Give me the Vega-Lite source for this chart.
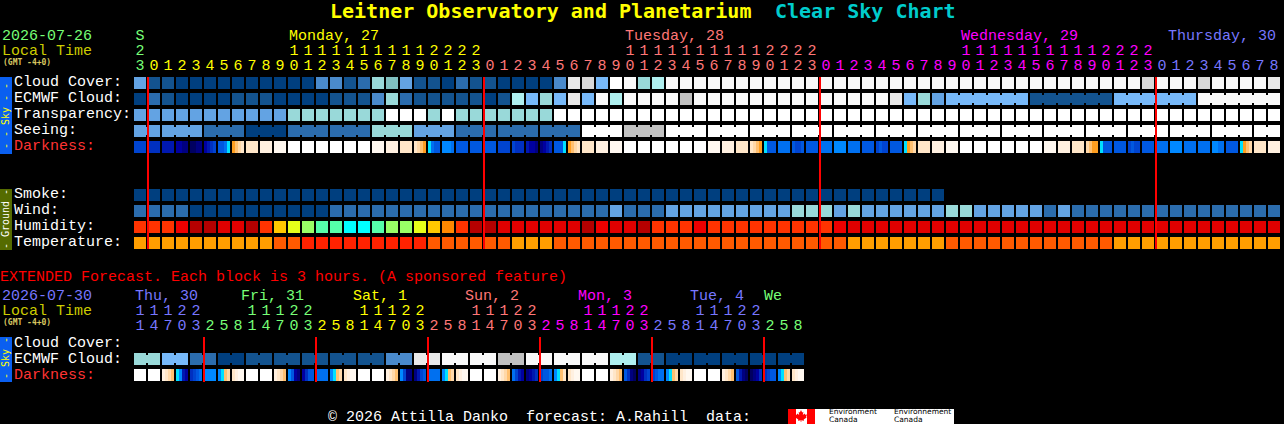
{"$schema":"https://vega.github.io/schema/vega-lite/v6.json","width":1284,"height":424,"padding":0,"autosize":{"type":"fit","contains":"padding"},"background":"#000000","view":{"stroke":null},
"datasets":{
"blocks":[
{"c":-10,"c2":-9.1429,"l":-0.375,"l2":4.4375,"v":"skybar"},{"c":-10,"c2":-9.1429,"l":6.625,"l2":10.4375,"v":"groundbar"},{"c":-10,"c2":-9.1429,"l":15.875,"l2":18.6875,"v":"skybar"},
{"c":46.2857,"c2":58.1429,"l":20.375,"l2":21.3125,"v":"white"},{"c":46.2857,"c2":46.8571,"l":20.375,"l2":21.3125,"v":"red"},{"c":47.6429,"c2":48.2143,"l":20.375,"l2":21.3125,"v":"red"}],
"cells":[
{"c":0,"l":0,"v":"E"},{"c":1,"l":0,"v":"B"},{"c":2,"l":0,"v":"B"},{"c":3,"l":0,"v":"A"},{"c":4,"l":0,"v":"A"},{"c":5,"l":0,"v":"A"},{"c":6,"l":0,"v":"A"},{"c":7,"l":0,"v":"A"},{"c":8,"l":0,"v":"A"},{"c":9,"l":0,"v":"A"},{"c":10,"l":0,"v":"A"},{"c":11,"l":0,"v":"A"},{"c":12,"l":0,"v":"A"},{"c":13,"l":0,"v":"D"},{"c":14,"l":0,"v":"D"},{"c":15,"l":0,"v":"B"},{"c":16,"l":0,"v":"C"},{"c":17,"l":0,"v":"G"},{"c":18,"l":0,"v":"M"},{"c":19,"l":0,"v":"E"},{"c":20,"l":0,"v":"B"},{"c":21,"l":0,"v":"B"},{"c":22,"l":0,"v":"A"},{"c":23,"l":0,"v":"C"},{"c":24,"l":0,"v":"B"},{"c":25,"l":0,"v":"B"},{"c":26,"l":0,"v":"A"},{"c":27,"l":0,"v":"A"},{"c":28,"l":0,"v":"A"},{"c":29,"l":0,"v":"A"},{"c":30,"l":0,"v":"D"},{"c":31,"l":0,"v":"J"},{"c":32,"l":0,"v":"L"},{"c":33,"l":0,"v":"F"},{"c":34,"l":0,"v":"W"},{"c":35,"l":0,"v":"K"},{"c":36,"l":0,"v":"G"},{"c":37,"l":0,"v":"H"},{"c":38,"l":0,"v":"K"},{"c":39,"l":0,"v":"K"},{"c":40,"l":0,"v":"K"},{"c":41,"l":0,"v":"K"},{"c":42,"l":0,"v":"K"},{"c":43,"l":0,"v":"K"},{"c":44,"l":0,"v":"K"},{"c":45,"l":0,"v":"K"},{"c":46,"l":0,"v":"K"},{"c":47,"l":0,"v":"K"},{"c":48,"l":0,"v":"K"},{"c":49,"l":0,"v":"K"},{"c":50,"l":0,"v":"K"},{"c":51,"l":0,"v":"K"},{"c":52,"l":0,"v":"K"},{"c":53,"l":0,"v":"K"},{"c":54,"l":0,"v":"K"},{"c":55,"l":0,"v":"K"},{"c":56,"l":0,"v":"K"},{"c":57,"l":0,"v":"K"},{"c":58,"l":0,"v":"K"},{"c":59,"l":0,"v":"K"},{"c":60,"l":0,"v":"K"},{"c":61,"l":0,"v":"K"},{"c":62,"l":0,"v":"K"},{"c":63,"l":0,"v":"K"},{"c":64,"l":0,"v":"K"},{"c":65,"l":0,"v":"K"},{"c":66,"l":0,"v":"K"},{"c":67,"l":0,"v":"K"},{"c":68,"l":0,"v":"K"},{"c":69,"l":0,"v":"K"},{"c":70,"l":0,"v":"K"},{"c":71,"l":0,"v":"K"},{"c":72,"l":0,"v":"L"},{"c":73,"l":0,"v":"K"},{"c":74,"l":0,"v":"K"},{"c":75,"l":0,"v":"K"},{"c":76,"l":0,"v":"L"},{"c":77,"l":0,"v":"K"},{"c":78,"l":0,"v":"K"},{"c":79,"l":0,"v":"K"},{"c":80,"l":0,"v":"K"},{"c":81,"l":0,"v":"J"},
{"c":0,"l":1,"v":"A"},{"c":1,"l":1,"v":"C"},{"c":2,"l":1,"v":"B"},{"c":3,"l":1,"v":"A"},{"c":4,"l":1,"v":"A"},{"c":5,"l":1,"v":"A"},{"c":6,"l":1,"v":"A"},{"c":7,"l":1,"v":"B"},{"c":8,"l":1,"v":"B"},{"c":9,"l":1,"v":"B"},{"c":10,"l":1,"v":"A"},{"c":11,"l":1,"v":"A"},{"c":12,"l":1,"v":"A"},{"c":13,"l":1,"v":"A"},{"c":14,"l":1,"v":"B"},{"c":15,"l":1,"v":"B"},{"c":16,"l":1,"v":"B"},{"c":17,"l":1,"v":"D"},{"c":18,"l":1,"v":"G"},{"c":19,"l":1,"v":"C"},{"c":20,"l":1,"v":"B"},{"c":21,"l":1,"v":"B"},{"c":22,"l":1,"v":"B"},{"c":23,"l":1,"v":"B"},{"c":24,"l":1,"v":"B"},{"c":25,"l":1,"v":"A"},{"c":26,"l":1,"v":"B"},{"c":27,"l":1,"v":"H"},{"c":28,"l":1,"v":"F"},{"c":29,"l":1,"v":"G"},{"c":30,"l":1,"v":"F"},{"c":31,"l":1,"v":"J"},{"c":32,"l":1,"v":"F"},{"c":33,"l":1,"v":"K"},{"c":34,"l":1,"v":"H"},{"c":35,"l":1,"v":"K"},{"c":36,"l":1,"v":"K"},{"c":37,"l":1,"v":"K"},{"c":38,"l":1,"v":"K"},{"c":39,"l":1,"v":"I"},{"c":40,"l":1,"v":"K"},{"c":41,"l":1,"v":"K"},{"c":42,"l":1,"v":"K"},{"c":43,"l":1,"v":"K"},{"c":44,"l":1,"v":"K"},{"c":45,"l":1,"v":"K"},{"c":46,"l":1,"v":"K"},{"c":47,"l":1,"v":"K"},{"c":48,"l":1,"v":"K"},{"c":49,"l":1,"v":"K"},{"c":50,"l":1,"v":"K"},{"c":51,"l":1,"v":"K"},{"c":52,"l":1,"v":"K"},{"c":53,"l":1,"v":"K"},{"c":54,"l":1,"v":"J"},{"c":55,"l":1,"v":"F"},{"c":56,"l":1,"v":"G"},{"c":57,"l":1,"v":"E"},{"c":58,"l":1,"v":"F","j":1},{"c":59,"l":1,"v":"F","j":1},{"c":60,"l":1,"v":"F","j":1},{"c":61,"l":1,"v":"F","j":1},{"c":62,"l":1,"v":"F","j":1},{"c":63,"l":1,"v":"F"},{"c":64,"l":1,"v":"B","j":1},{"c":65,"l":1,"v":"B","j":1},{"c":66,"l":1,"v":"B","j":1},{"c":67,"l":1,"v":"B","j":1},{"c":68,"l":1,"v":"B","j":1},{"c":69,"l":1,"v":"B"},{"c":70,"l":1,"v":"F","j":1},{"c":71,"l":1,"v":"F","j":1},{"c":72,"l":1,"v":"F","j":1},{"c":73,"l":1,"v":"F","j":1},{"c":74,"l":1,"v":"F","j":1},{"c":75,"l":1,"v":"F"},{"c":76,"l":1,"v":"K","j":1},{"c":77,"l":1,"v":"K","j":1},{"c":78,"l":1,"v":"K","j":1},{"c":79,"l":1,"v":"K","j":1},{"c":80,"l":1,"v":"K","j":1},{"c":81,"l":1,"v":"K"},
{"c":0,"l":2,"v":"E"},{"c":1,"l":2,"v":"E"},{"c":2,"l":2,"v":"E"},{"c":3,"l":2,"v":"E"},{"c":4,"l":2,"v":"E"},{"c":5,"l":2,"v":"E"},{"c":6,"l":2,"v":"E"},{"c":7,"l":2,"v":"E"},{"c":8,"l":2,"v":"E"},{"c":9,"l":2,"v":"E"},{"c":10,"l":2,"v":"E"},{"c":11,"l":2,"v":"G"},{"c":12,"l":2,"v":"G"},{"c":13,"l":2,"v":"G"},{"c":14,"l":2,"v":"G"},{"c":15,"l":2,"v":"G"},{"c":16,"l":2,"v":"G"},{"c":17,"l":2,"v":"G"},{"c":18,"l":2,"v":"W"},{"c":19,"l":2,"v":"W"},{"c":20,"l":2,"v":"W"},{"c":21,"l":2,"v":"G"},{"c":22,"l":2,"v":"W"},{"c":23,"l":2,"v":"G"},{"c":24,"l":2,"v":"G"},{"c":25,"l":2,"v":"G"},{"c":26,"l":2,"v":"G"},{"c":27,"l":2,"v":"G"},{"c":28,"l":2,"v":"G"},{"c":29,"l":2,"v":"G"},{"c":30,"l":2,"v":"W"},{"c":31,"l":2,"v":"W"},{"c":32,"l":2,"v":"W"},{"c":33,"l":2,"v":"W"},{"c":34,"l":2,"v":"W"},{"c":35,"l":2,"v":"W"},{"c":36,"l":2,"v":"W"},{"c":37,"l":2,"v":"W"},{"c":38,"l":2,"v":"W"},{"c":39,"l":2,"v":"W"},{"c":40,"l":2,"v":"W"},{"c":41,"l":2,"v":"W"},{"c":42,"l":2,"v":"W"},{"c":43,"l":2,"v":"W"},{"c":44,"l":2,"v":"W"},{"c":45,"l":2,"v":"W"},{"c":46,"l":2,"v":"W"},{"c":47,"l":2,"v":"W"},{"c":48,"l":2,"v":"W"},{"c":49,"l":2,"v":"W"},{"c":50,"l":2,"v":"W"},{"c":51,"l":2,"v":"W"},{"c":52,"l":2,"v":"W"},{"c":53,"l":2,"v":"W"},{"c":54,"l":2,"v":"W"},{"c":55,"l":2,"v":"W"},{"c":56,"l":2,"v":"W"},{"c":57,"l":2,"v":"W"},{"c":58,"l":2,"v":"W"},{"c":59,"l":2,"v":"W"},{"c":60,"l":2,"v":"W"},{"c":61,"l":2,"v":"W"},{"c":62,"l":2,"v":"W"},{"c":63,"l":2,"v":"W"},{"c":64,"l":2,"v":"W"},{"c":65,"l":2,"v":"W"},{"c":66,"l":2,"v":"W"},{"c":67,"l":2,"v":"W"},{"c":68,"l":2,"v":"W"},{"c":69,"l":2,"v":"W"},{"c":70,"l":2,"v":"W"},{"c":71,"l":2,"v":"W"},{"c":72,"l":2,"v":"W"},{"c":73,"l":2,"v":"W"},{"c":74,"l":2,"v":"W"},{"c":75,"l":2,"v":"W"},{"c":76,"l":2,"v":"W"},{"c":77,"l":2,"v":"W"},{"c":78,"l":2,"v":"W"},{"c":79,"l":2,"v":"W"},{"c":80,"l":2,"v":"W"},{"c":81,"l":2,"v":"W"},
{"c":0,"l":3,"v":"E","j":1},{"c":1,"l":3,"v":"E"},{"c":2,"l":3,"v":"E","j":1},{"c":3,"l":3,"v":"E","j":1},{"c":4,"l":3,"v":"E"},{"c":5,"l":3,"v":"C","j":1},{"c":6,"l":3,"v":"C","j":1},{"c":7,"l":3,"v":"C"},{"c":8,"l":3,"v":"A","j":1},{"c":9,"l":3,"v":"A","j":1},{"c":10,"l":3,"v":"A"},{"c":11,"l":3,"v":"C","j":1},{"c":12,"l":3,"v":"C","j":1},{"c":13,"l":3,"v":"C"},{"c":14,"l":3,"v":"C","j":1},{"c":15,"l":3,"v":"C","j":1},{"c":16,"l":3,"v":"C"},{"c":17,"l":3,"v":"G","j":1},{"c":18,"l":3,"v":"G","j":1},{"c":19,"l":3,"v":"G"},{"c":20,"l":3,"v":"E","j":1},{"c":21,"l":3,"v":"E","j":1},{"c":22,"l":3,"v":"E"},{"c":23,"l":3,"v":"C","j":1},{"c":24,"l":3,"v":"C","j":1},{"c":25,"l":3,"v":"C"},{"c":26,"l":3,"v":"C","j":1},{"c":27,"l":3,"v":"C","j":1},{"c":28,"l":3,"v":"C"},{"c":29,"l":3,"v":"C","j":1},{"c":30,"l":3,"v":"C","j":1},{"c":31,"l":3,"v":"C"},{"c":32,"l":3,"v":"W","j":1},{"c":33,"l":3,"v":"W","j":1},{"c":34,"l":3,"v":"W"},{"c":35,"l":3,"v":"I","j":1},{"c":36,"l":3,"v":"I","j":1},{"c":37,"l":3,"v":"I"},{"c":38,"l":3,"v":"W","j":1},{"c":39,"l":3,"v":"W","j":1},{"c":40,"l":3,"v":"W"},{"c":41,"l":3,"v":"W","j":1},{"c":42,"l":3,"v":"W","j":1},{"c":43,"l":3,"v":"W"},{"c":44,"l":3,"v":"W","j":1},{"c":45,"l":3,"v":"W","j":1},{"c":46,"l":3,"v":"W"},{"c":47,"l":3,"v":"W","j":1},{"c":48,"l":3,"v":"W","j":1},{"c":49,"l":3,"v":"W"},{"c":50,"l":3,"v":"W","j":1},{"c":51,"l":3,"v":"W","j":1},{"c":52,"l":3,"v":"W"},{"c":53,"l":3,"v":"W","j":1},{"c":54,"l":3,"v":"W","j":1},{"c":55,"l":3,"v":"W"},{"c":56,"l":3,"v":"W","j":1},{"c":57,"l":3,"v":"W","j":1},{"c":58,"l":3,"v":"W"},{"c":59,"l":3,"v":"W","j":1},{"c":60,"l":3,"v":"W","j":1},{"c":61,"l":3,"v":"W"},{"c":62,"l":3,"v":"W","j":1},{"c":63,"l":3,"v":"W","j":1},{"c":64,"l":3,"v":"W"},{"c":65,"l":3,"v":"W","j":1},{"c":66,"l":3,"v":"W","j":1},{"c":67,"l":3,"v":"W"},{"c":68,"l":3,"v":"W","j":1},{"c":69,"l":3,"v":"W","j":1},{"c":70,"l":3,"v":"W"},{"c":71,"l":3,"v":"W","j":1},{"c":72,"l":3,"v":"W","j":1},{"c":73,"l":3,"v":"W"},{"c":74,"l":3,"v":"W","j":1},{"c":75,"l":3,"v":"W","j":1},{"c":76,"l":3,"v":"W"},{"c":77,"l":3,"v":"W","j":1},{"c":78,"l":3,"v":"W","j":1},{"c":79,"l":3,"v":"W"},{"c":80,"l":3,"v":"W","j":1},{"c":81,"l":3,"v":"W"},
{"c":0,"l":4,"v":"b4"},{"c":1,"l":4,"v":"b5"},{"c":2,"l":4,"v":"b6"},{"c":8,"l":4,"v":"c3"},{"c":9,"l":4,"v":"c2"},{"c":10,"l":4,"v":"c1"},{"c":11,"l":4,"v":"W"},{"c":12,"l":4,"v":"W"},{"c":13,"l":4,"v":"W"},{"c":14,"l":4,"v":"W"},{"c":15,"l":4,"v":"W"},{"c":16,"l":4,"v":"W"},{"c":17,"l":4,"v":"c1"},{"c":18,"l":4,"v":"c2"},{"c":19,"l":4,"v":"c3"},{"c":23,"l":4,"v":"b3"},{"c":24,"l":4,"v":"b3"},{"c":25,"l":4,"v":"b3"},{"c":26,"l":4,"v":"b4"},{"c":32,"l":4,"v":"c3"},{"c":33,"l":4,"v":"c2"},{"c":34,"l":4,"v":"c1"},{"c":35,"l":4,"v":"W"},{"c":36,"l":4,"v":"W"},{"c":37,"l":4,"v":"W"},{"c":38,"l":4,"v":"W"},{"c":39,"l":4,"v":"W"},{"c":40,"l":4,"v":"W"},{"c":41,"l":4,"v":"c1"},{"c":42,"l":4,"v":"c2"},{"c":43,"l":4,"v":"c3"},{"c":46,"l":4,"v":"b2"},{"c":48,"l":4,"v":"b3"},{"c":49,"l":4,"v":"b2"},{"c":50,"l":4,"v":"b1"},{"c":51,"l":4,"v":"b2"},{"c":52,"l":4,"v":"b3"},{"c":54,"l":4,"v":"b3"},{"c":56,"l":4,"v":"c3"},{"c":57,"l":4,"v":"c2"},{"c":58,"l":4,"v":"c1"},{"c":59,"l":4,"v":"W"},{"c":60,"l":4,"v":"W"},{"c":61,"l":4,"v":"W"},{"c":62,"l":4,"v":"W"},{"c":63,"l":4,"v":"W"},{"c":64,"l":4,"v":"W"},{"c":65,"l":4,"v":"c1"},{"c":66,"l":4,"v":"c2"},{"c":67,"l":4,"v":"c3"},{"c":70,"l":4,"v":"b3"},{"c":72,"l":4,"v":"b3"},{"c":73,"l":4,"v":"b2"},{"c":74,"l":4,"v":"b1"},{"c":75,"l":4,"v":"b2"},{"c":76,"l":4,"v":"b2"},{"c":78,"l":4,"v":"b3"},{"c":80,"l":4,"v":"c3"},{"c":81,"l":4,"v":"c2"},
{"c":0,"l":7,"v":"A"},{"c":1,"l":7,"v":"A"},{"c":2,"l":7,"v":"A"},{"c":3,"l":7,"v":"A"},{"c":4,"l":7,"v":"A"},{"c":5,"l":7,"v":"A"},{"c":6,"l":7,"v":"A"},{"c":7,"l":7,"v":"A"},{"c":8,"l":7,"v":"A"},{"c":9,"l":7,"v":"A"},{"c":10,"l":7,"v":"A"},{"c":11,"l":7,"v":"A"},{"c":12,"l":7,"v":"A"},{"c":13,"l":7,"v":"A"},{"c":14,"l":7,"v":"A"},{"c":15,"l":7,"v":"A"},{"c":16,"l":7,"v":"A"},{"c":17,"l":7,"v":"A"},{"c":18,"l":7,"v":"A"},{"c":19,"l":7,"v":"A"},{"c":20,"l":7,"v":"A"},{"c":21,"l":7,"v":"A"},{"c":22,"l":7,"v":"A"},{"c":23,"l":7,"v":"A"},{"c":24,"l":7,"v":"A"},{"c":25,"l":7,"v":"A"},{"c":26,"l":7,"v":"A"},{"c":27,"l":7,"v":"A"},{"c":28,"l":7,"v":"A"},{"c":29,"l":7,"v":"A"},{"c":30,"l":7,"v":"A"},{"c":31,"l":7,"v":"A"},{"c":32,"l":7,"v":"A"},{"c":33,"l":7,"v":"A"},{"c":34,"l":7,"v":"A"},{"c":35,"l":7,"v":"A"},{"c":36,"l":7,"v":"A"},{"c":37,"l":7,"v":"A"},{"c":38,"l":7,"v":"A"},{"c":39,"l":7,"v":"A"},{"c":40,"l":7,"v":"A"},{"c":41,"l":7,"v":"A"},{"c":42,"l":7,"v":"A"},{"c":43,"l":7,"v":"A"},{"c":44,"l":7,"v":"A"},{"c":45,"l":7,"v":"A"},{"c":46,"l":7,"v":"A"},{"c":47,"l":7,"v":"A"},{"c":48,"l":7,"v":"A"},{"c":49,"l":7,"v":"A"},{"c":50,"l":7,"v":"A"},{"c":51,"l":7,"v":"A"},{"c":52,"l":7,"v":"A"},{"c":53,"l":7,"v":"A"},{"c":54,"l":7,"v":"A"},{"c":55,"l":7,"v":"A"},{"c":56,"l":7,"v":"A"},{"c":57,"l":7,"v":"A"},
{"c":0,"l":8,"v":"C"},{"c":1,"l":8,"v":"C"},{"c":2,"l":8,"v":"C"},{"c":3,"l":8,"v":"C"},{"c":4,"l":8,"v":"A"},{"c":5,"l":8,"v":"A"},{"c":6,"l":8,"v":"A"},{"c":7,"l":8,"v":"A"},{"c":8,"l":8,"v":"A"},{"c":9,"l":8,"v":"A"},{"c":10,"l":8,"v":"A"},{"c":11,"l":8,"v":"A"},{"c":12,"l":8,"v":"A"},{"c":13,"l":8,"v":"A"},{"c":14,"l":8,"v":"C"},{"c":15,"l":8,"v":"C"},{"c":16,"l":8,"v":"C"},{"c":17,"l":8,"v":"C"},{"c":18,"l":8,"v":"C"},{"c":19,"l":8,"v":"C"},{"c":20,"l":8,"v":"C"},{"c":21,"l":8,"v":"C"},{"c":22,"l":8,"v":"C"},{"c":23,"l":8,"v":"C"},{"c":24,"l":8,"v":"C"},{"c":25,"l":8,"v":"C"},{"c":26,"l":8,"v":"C"},{"c":27,"l":8,"v":"C"},{"c":28,"l":8,"v":"C"},{"c":29,"l":8,"v":"C"},{"c":30,"l":8,"v":"C"},{"c":31,"l":8,"v":"C"},{"c":32,"l":8,"v":"C"},{"c":33,"l":8,"v":"C"},{"c":34,"l":8,"v":"E"},{"c":35,"l":8,"v":"C"},{"c":36,"l":8,"v":"C"},{"c":37,"l":8,"v":"C"},{"c":38,"l":8,"v":"E"},{"c":39,"l":8,"v":"E"},{"c":40,"l":8,"v":"E"},{"c":41,"l":8,"v":"E"},{"c":42,"l":8,"v":"E"},{"c":43,"l":8,"v":"E"},{"c":44,"l":8,"v":"E"},{"c":45,"l":8,"v":"E"},{"c":46,"l":8,"v":"E"},{"c":47,"l":8,"v":"G"},{"c":48,"l":8,"v":"G"},{"c":49,"l":8,"v":"G"},{"c":50,"l":8,"v":"E"},{"c":51,"l":8,"v":"G"},{"c":52,"l":8,"v":"E"},{"c":53,"l":8,"v":"E"},{"c":54,"l":8,"v":"E"},{"c":55,"l":8,"v":"E"},{"c":56,"l":8,"v":"E"},{"c":57,"l":8,"v":"E"},{"c":58,"l":8,"v":"G"},{"c":59,"l":8,"v":"G"},{"c":60,"l":8,"v":"E"},{"c":61,"l":8,"v":"E"},{"c":62,"l":8,"v":"E"},{"c":63,"l":8,"v":"E"},{"c":64,"l":8,"v":"E"},{"c":65,"l":8,"v":"C"},{"c":66,"l":8,"v":"E"},{"c":67,"l":8,"v":"C"},{"c":68,"l":8,"v":"C"},{"c":69,"l":8,"v":"C"},{"c":70,"l":8,"v":"C"},{"c":71,"l":8,"v":"C"},{"c":72,"l":8,"v":"C"},{"c":73,"l":8,"v":"C"},{"c":74,"l":8,"v":"C"},{"c":75,"l":8,"v":"C"},{"c":76,"l":8,"v":"C"},{"c":77,"l":8,"v":"C"},{"c":78,"l":8,"v":"C"},{"c":79,"l":8,"v":"C"},{"c":80,"l":8,"v":"C"},{"c":81,"l":8,"v":"C"},
{"c":0,"l":9,"v":"R1"},{"c":1,"l":9,"v":"R1"},{"c":2,"l":9,"v":"R1"},{"c":3,"l":9,"v":"R4"},{"c":4,"l":9,"v":"R3"},{"c":5,"l":9,"v":"R3"},{"c":6,"l":9,"v":"R2"},{"c":7,"l":9,"v":"R2"},{"c":8,"l":9,"v":"R3"},{"c":9,"l":9,"v":"R1"},{"c":10,"l":9,"v":"Y1"},{"c":11,"l":9,"v":"Y3"},{"c":12,"l":9,"v":"Y4"},{"c":13,"l":9,"v":"Y5"},{"c":14,"l":9,"v":"Y5"},{"c":15,"l":9,"v":"Y6"},{"c":16,"l":9,"v":"Y6"},{"c":17,"l":9,"v":"Y5"},{"c":18,"l":9,"v":"Y4"},{"c":19,"l":9,"v":"Y4"},{"c":20,"l":9,"v":"Y3"},{"c":21,"l":9,"v":"Y1"},{"c":22,"l":9,"v":"Y2"},{"c":23,"l":9,"v":"R1"},{"c":24,"l":9,"v":"R3"},{"c":25,"l":9,"v":"R3"},{"c":26,"l":9,"v":"R2"},{"c":27,"l":9,"v":"R2"},{"c":28,"l":9,"v":"R2"},{"c":29,"l":9,"v":"R2"},{"c":30,"l":9,"v":"R2"},{"c":31,"l":9,"v":"R2"},{"c":32,"l":9,"v":"R3"},{"c":33,"l":9,"v":"R4"},{"c":34,"l":9,"v":"R2"},{"c":35,"l":9,"v":"R2"},{"c":36,"l":9,"v":"R3"},{"c":37,"l":9,"v":"R1"},{"c":38,"l":9,"v":"R1"},{"c":39,"l":9,"v":"R1"},{"c":40,"l":9,"v":"R4"},{"c":41,"l":9,"v":"R1"},{"c":42,"l":9,"v":"R1"},{"c":43,"l":9,"v":"R1"},{"c":44,"l":9,"v":"R1"},{"c":45,"l":9,"v":"R1"},{"c":46,"l":9,"v":"R1"},{"c":47,"l":9,"v":"R1"},{"c":48,"l":9,"v":"R1"},{"c":49,"l":9,"v":"R1"},{"c":50,"l":9,"v":"R4"},{"c":51,"l":9,"v":"R2"},{"c":52,"l":9,"v":"R2"},{"c":53,"l":9,"v":"R2"},{"c":54,"l":9,"v":"R2"},{"c":55,"l":9,"v":"R2"},{"c":56,"l":9,"v":"R2"},{"c":57,"l":9,"v":"R2"},{"c":58,"l":9,"v":"R2"},{"c":59,"l":9,"v":"R2"},{"c":60,"l":9,"v":"R2"},{"c":61,"l":9,"v":"R2"},{"c":62,"l":9,"v":"R2"},{"c":63,"l":9,"v":"R2"},{"c":64,"l":9,"v":"R2"},{"c":65,"l":9,"v":"R2"},{"c":66,"l":9,"v":"R2"},{"c":67,"l":9,"v":"R2"},{"c":68,"l":9,"v":"R2"},{"c":69,"l":9,"v":"R2"},{"c":70,"l":9,"v":"R2"},{"c":71,"l":9,"v":"R2"},{"c":72,"l":9,"v":"R2"},{"c":73,"l":9,"v":"R2"},{"c":74,"l":9,"v":"R2"},{"c":75,"l":9,"v":"R2"},{"c":76,"l":9,"v":"R2"},{"c":77,"l":9,"v":"R2"},{"c":78,"l":9,"v":"R2"},{"c":79,"l":9,"v":"R2"},{"c":80,"l":9,"v":"R2"},{"c":81,"l":9,"v":"R2"},
{"c":0,"l":10,"v":"T1"},{"c":1,"l":10,"v":"T1"},{"c":2,"l":10,"v":"T1"},{"c":3,"l":10,"v":"T1"},{"c":4,"l":10,"v":"T1"},{"c":5,"l":10,"v":"T1"},{"c":6,"l":10,"v":"T1"},{"c":7,"l":10,"v":"T1"},{"c":8,"l":10,"v":"T1"},{"c":9,"l":10,"v":"T1"},{"c":10,"l":10,"v":"T2"},{"c":11,"l":10,"v":"T2"},{"c":12,"l":10,"v":"T3"},{"c":13,"l":10,"v":"T3"},{"c":14,"l":10,"v":"T3"},{"c":15,"l":10,"v":"T3"},{"c":16,"l":10,"v":"T3"},{"c":17,"l":10,"v":"T3"},{"c":18,"l":10,"v":"T3"},{"c":19,"l":10,"v":"T3"},{"c":20,"l":10,"v":"T3"},{"c":21,"l":10,"v":"T2"},{"c":22,"l":10,"v":"T2"},{"c":23,"l":10,"v":"T2"},{"c":24,"l":10,"v":"T2"},{"c":25,"l":10,"v":"T2"},{"c":26,"l":10,"v":"T2"},{"c":27,"l":10,"v":"T1"},{"c":28,"l":10,"v":"T1"},{"c":29,"l":10,"v":"T1"},{"c":30,"l":10,"v":"T2"},{"c":31,"l":10,"v":"T2"},{"c":32,"l":10,"v":"T2"},{"c":33,"l":10,"v":"T2"},{"c":34,"l":10,"v":"T2"},{"c":35,"l":10,"v":"T2"},{"c":36,"l":10,"v":"T2"},{"c":37,"l":10,"v":"T2"},{"c":38,"l":10,"v":"T2"},{"c":39,"l":10,"v":"T2"},{"c":40,"l":10,"v":"T2"},{"c":41,"l":10,"v":"T2"},{"c":42,"l":10,"v":"T2"},{"c":43,"l":10,"v":"T2"},{"c":44,"l":10,"v":"T2"},{"c":45,"l":10,"v":"T2"},{"c":46,"l":10,"v":"T2"},{"c":47,"l":10,"v":"T2"},{"c":48,"l":10,"v":"T2"},{"c":49,"l":10,"v":"T2"},{"c":50,"l":10,"v":"T2"},{"c":51,"l":10,"v":"T1"},{"c":52,"l":10,"v":"T1"},{"c":53,"l":10,"v":"T1"},{"c":54,"l":10,"v":"T1"},{"c":55,"l":10,"v":"T1"},{"c":56,"l":10,"v":"T1"},{"c":57,"l":10,"v":"T1"},{"c":58,"l":10,"v":"T2"},{"c":59,"l":10,"v":"T2"},{"c":60,"l":10,"v":"T2"},{"c":61,"l":10,"v":"T2"},{"c":62,"l":10,"v":"T2"},{"c":63,"l":10,"v":"T2"},{"c":64,"l":10,"v":"T2"},{"c":65,"l":10,"v":"T2"},{"c":66,"l":10,"v":"T2"},{"c":67,"l":10,"v":"T2"},{"c":68,"l":10,"v":"T2"},{"c":69,"l":10,"v":"T2"},{"c":70,"l":10,"v":"T1"},{"c":71,"l":10,"v":"T1"},{"c":72,"l":10,"v":"T1"},{"c":73,"l":10,"v":"T1"},{"c":74,"l":10,"v":"T1"},{"c":75,"l":10,"v":"T1"},{"c":76,"l":10,"v":"T1"},{"c":77,"l":10,"v":"T1"},{"c":78,"l":10,"v":"T1"},{"c":79,"l":10,"v":"T1"},{"c":80,"l":10,"v":"T1"},{"c":81,"l":10,"v":"T1"},
{"c":0,"l":17.25,"v":"G","j":1},{"c":1,"l":17.25,"v":"G"},{"c":2,"l":17.25,"v":"F","j":1},{"c":3,"l":17.25,"v":"F"},{"c":4,"l":17.25,"v":"C","j":1},{"c":5,"l":17.25,"v":"C"},{"c":6,"l":17.25,"v":"A","j":1},{"c":7,"l":17.25,"v":"A"},{"c":8,"l":17.25,"v":"B","j":1},{"c":9,"l":17.25,"v":"B"},{"c":10,"l":17.25,"v":"B","j":1},{"c":11,"l":17.25,"v":"B"},{"c":12,"l":17.25,"v":"B","j":1},{"c":13,"l":17.25,"v":"B"},{"c":14,"l":17.25,"v":"B","j":1},{"c":15,"l":17.25,"v":"B"},{"c":16,"l":17.25,"v":"B","j":1},{"c":17,"l":17.25,"v":"B"},{"c":18,"l":17.25,"v":"D","j":1},{"c":19,"l":17.25,"v":"D"},{"c":20,"l":17.25,"v":"J","j":1},{"c":21,"l":17.25,"v":"J"},{"c":22,"l":17.25,"v":"K","j":1},{"c":23,"l":17.25,"v":"K"},{"c":24,"l":17.25,"v":"K","j":1},{"c":25,"l":17.25,"v":"K"},{"c":26,"l":17.25,"v":"I","j":1},{"c":27,"l":17.25,"v":"I"},{"c":28,"l":17.25,"v":"K","j":1},{"c":29,"l":17.25,"v":"K"},{"c":30,"l":17.25,"v":"K","j":1},{"c":31,"l":17.25,"v":"K"},{"c":32,"l":17.25,"v":"K","j":1},{"c":33,"l":17.25,"v":"K"},{"c":34,"l":17.25,"v":"H","j":1},{"c":35,"l":17.25,"v":"H"},{"c":36,"l":17.25,"v":"B","j":1},{"c":37,"l":17.25,"v":"B"},{"c":38,"l":17.25,"v":"A","j":1},{"c":39,"l":17.25,"v":"A"},{"c":40,"l":17.25,"v":"A","j":1},{"c":41,"l":17.25,"v":"A"},{"c":42,"l":17.25,"v":"A","j":1},{"c":43,"l":17.25,"v":"A"},{"c":44,"l":17.25,"v":"A","j":1},{"c":45,"l":17.25,"v":"A"},{"c":46,"l":17.25,"v":"A","j":1},{"c":47,"l":17.25,"v":"A"},
{"c":0,"l":18.25,"v":"W"},{"c":1,"l":18.25,"v":"W"},{"c":5,"l":18.25,"v":"b1"},{"c":8,"l":18.25,"v":"W"},{"c":9,"l":18.25,"v":"W"},{"c":13,"l":18.25,"v":"b2"},{"c":16,"l":18.25,"v":"W"},{"c":17,"l":18.25,"v":"W"},{"c":21,"l":18.25,"v":"b2"},{"c":24,"l":18.25,"v":"W"},{"c":25,"l":18.25,"v":"W"},{"c":32,"l":18.25,"v":"W"},{"c":33,"l":18.25,"v":"W"},{"c":40,"l":18.25,"v":"W"},{"c":41,"l":18.25,"v":"W"}],
"strips":[
{"c":2.6786,"l":4,"v":"b7"},{"c":2.8929,"l":4,"v":"b7"},{"c":3.1071,"l":4,"v":"b8"},{"c":3.3214,"l":4,"v":"b8"},{"c":3.6786,"l":4,"v":"b9"},{"c":3.8929,"l":4,"v":"b9"},{"c":4.1071,"l":4,"v":"b8"},{"c":4.3214,"l":4,"v":"b8"},{"c":4.6786,"l":4,"v":"b7"},{"c":4.8929,"l":4,"v":"b6"},{"c":5.1071,"l":4,"v":"b5"},{"c":5.3214,"l":4,"v":"b4"},{"c":5.6786,"l":4,"v":"b3"},{"c":5.8929,"l":4,"v":"b3"},{"c":6.1071,"l":4,"v":"b2"},{"c":6.3214,"l":4,"v":"cy"},{"c":6.6786,"l":4,"v":"c6"},{"c":6.8929,"l":4,"v":"c5"},{"c":7.1071,"l":4,"v":"c4"},{"c":7.3214,"l":4,"v":"c3"},
{"c":19.6786,"l":4,"v":"c3"},{"c":19.8929,"l":4,"v":"c4"},{"c":20.1071,"l":4,"v":"c5"},{"c":20.3214,"l":4,"v":"c6"},{"c":20.6786,"l":4,"v":"cy"},{"c":20.8929,"l":4,"v":"b2"},{"c":21.1071,"l":4,"v":"b3"},{"c":21.3214,"l":4,"v":"b3"},{"c":21.6786,"l":4,"v":"b1"},{"c":21.8929,"l":4,"v":"b1"},{"c":22.1071,"l":4,"v":"b1"},{"c":22.3214,"l":4,"v":"b2"},
{"c":26.6786,"l":4,"v":"b4"},{"c":26.8929,"l":4,"v":"b5"},{"c":27.1071,"l":4,"v":"b5"},{"c":27.3214,"l":4,"v":"b5"},{"c":27.6786,"l":4,"v":"b6"},{"c":27.8929,"l":4,"v":"b7"},{"c":28.1071,"l":4,"v":"b7"},{"c":28.3214,"l":4,"v":"b8"},{"c":28.6786,"l":4,"v":"b8"},{"c":28.8929,"l":4,"v":"b7"},{"c":29.1071,"l":4,"v":"b6"},{"c":29.3214,"l":4,"v":"b5"},{"c":29.6786,"l":4,"v":"b3"},{"c":29.8929,"l":4,"v":"b3"},{"c":30.1071,"l":4,"v":"b3"},{"c":30.3214,"l":4,"v":"cy"},{"c":30.6786,"l":4,"v":"c6"},{"c":30.8929,"l":4,"v":"c5"},{"c":31.1071,"l":4,"v":"c4"},{"c":31.3214,"l":4,"v":"c3"},
{"c":43.6786,"l":4,"v":"c3"},{"c":43.8929,"l":4,"v":"c4"},{"c":44.1071,"l":4,"v":"c5"},{"c":44.3214,"l":4,"v":"c6"},{"c":44.6786,"l":4,"v":"cy"},{"c":44.8929,"l":4,"v":"b3"},{"c":45.1071,"l":4,"v":"b3"},{"c":45.3214,"l":4,"v":"b3"},{"c":46.6786,"l":4,"v":"b3"},{"c":46.8929,"l":4,"v":"b4"},{"c":47.1071,"l":4,"v":"b4"},{"c":47.3214,"l":4,"v":"b3"},{"c":52.6786,"l":4,"v":"b4"},{"c":52.8929,"l":4,"v":"b3"},{"c":53.1071,"l":4,"v":"b4"},{"c":53.3214,"l":4,"v":"b4"},{"c":54.6786,"l":4,"v":"cy"},{"c":54.8929,"l":4,"v":"c6"},{"c":55.1071,"l":4,"v":"c5"},{"c":55.3214,"l":4,"v":"c4"},
{"c":67.6786,"l":4,"v":"c4"},{"c":67.8929,"l":4,"v":"c5"},{"c":68.1071,"l":4,"v":"c6"},{"c":68.3214,"l":4,"v":"c6"},{"c":68.6786,"l":4,"v":"cy"},{"c":68.8929,"l":4,"v":"b3"},{"c":69.1071,"l":4,"v":"b3"},{"c":69.3214,"l":4,"v":"b3"},{"c":70.6786,"l":4,"v":"b4"},{"c":70.8929,"l":4,"v":"b3"},{"c":71.1071,"l":4,"v":"b4"},{"c":71.3214,"l":4,"v":"b4"},{"c":76.6786,"l":4,"v":"b1"},{"c":76.8929,"l":4,"v":"b1"},{"c":77.1071,"l":4,"v":"b2"},{"c":77.3214,"l":4,"v":"b2"},{"c":78.6786,"l":4,"v":"cy"},{"c":78.8929,"l":4,"v":"c6"},{"c":79.1071,"l":4,"v":"c5"},{"c":79.3214,"l":4,"v":"c4"},
{"c":1.6786,"l":18.25,"v":"c2"},{"c":1.8929,"l":18.25,"v":"c3"},{"c":2.1071,"l":18.25,"v":"c4"},{"c":2.3214,"l":18.25,"v":"c5"},{"c":2.6786,"l":18.25,"v":"cy"},{"c":2.8929,"l":18.25,"v":"b1"},{"c":3.1071,"l":18.25,"v":"b6"},{"c":3.3214,"l":18.25,"v":"b7"},{"c":3.6786,"l":18.25,"v":"b5"},{"c":3.8929,"l":18.25,"v":"b4"},{"c":4.1071,"l":18.25,"v":"b3"},{"c":4.3214,"l":18.25,"v":"b2"},{"c":5.6786,"l":18.25,"v":"b1"},{"c":5.8929,"l":18.25,"v":"cy"},{"c":6.1071,"l":18.25,"v":"c5"},{"c":6.3214,"l":18.25,"v":"c4"},{"c":6.6786,"l":18.25,"v":"c3"},{"c":6.8929,"l":18.25,"v":"c2"},{"c":7.1071,"l":18.25,"v":"c1"},{"c":7.3214,"l":18.25,"v":"c1"},
{"c":9.6786,"l":18.25,"v":"c2"},{"c":9.8929,"l":18.25,"v":"c3"},{"c":10.1071,"l":18.25,"v":"c4"},{"c":10.3214,"l":18.25,"v":"c5"},{"c":10.6786,"l":18.25,"v":"b1"},{"c":10.8929,"l":18.25,"v":"b3"},{"c":11.1071,"l":18.25,"v":"b7"},{"c":11.3214,"l":18.25,"v":"b8"},{"c":11.6786,"l":18.25,"v":"b7"},{"c":11.8929,"l":18.25,"v":"b5"},{"c":12.1071,"l":18.25,"v":"b3"},{"c":12.3214,"l":18.25,"v":"b3"},{"c":13.6786,"l":18.25,"v":"b1"},{"c":13.8929,"l":18.25,"v":"cy"},{"c":14.1071,"l":18.25,"v":"c5"},{"c":14.3214,"l":18.25,"v":"c4"},{"c":14.6786,"l":18.25,"v":"c3"},{"c":14.8929,"l":18.25,"v":"c2"},{"c":15.1071,"l":18.25,"v":"c1"},{"c":15.3214,"l":18.25,"v":"c1"},
{"c":17.6786,"l":18.25,"v":"c2"},{"c":17.8929,"l":18.25,"v":"c3"},{"c":18.1071,"l":18.25,"v":"c4"},{"c":18.3214,"l":18.25,"v":"c5"},{"c":18.6786,"l":18.25,"v":"b1"},{"c":18.8929,"l":18.25,"v":"b4"},{"c":19.1071,"l":18.25,"v":"b8"},{"c":19.3214,"l":18.25,"v":"b8"},{"c":19.6786,"l":18.25,"v":"b8"},{"c":19.8929,"l":18.25,"v":"b6"},{"c":20.1071,"l":18.25,"v":"b4"},{"c":20.3214,"l":18.25,"v":"b3"},{"c":21.6786,"l":18.25,"v":"b1"},{"c":21.8929,"l":18.25,"v":"cy"},{"c":22.1071,"l":18.25,"v":"c5"},{"c":22.3214,"l":18.25,"v":"c4"},{"c":22.6786,"l":18.25,"v":"c3"},{"c":22.8929,"l":18.25,"v":"c2"},{"c":23.1071,"l":18.25,"v":"c1"},{"c":23.3214,"l":18.25,"v":"c1"},
{"c":25.6786,"l":18.25,"v":"c2"},{"c":25.8929,"l":18.25,"v":"c3"},{"c":26.1071,"l":18.25,"v":"c4"},{"c":26.3214,"l":18.25,"v":"c5"},{"c":26.6786,"l":18.25,"v":"b2"},{"c":26.8929,"l":18.25,"v":"b4"},{"c":27.1071,"l":18.25,"v":"b6"},{"c":27.3214,"l":18.25,"v":"b7"},{"c":27.6786,"l":18.25,"v":"b8"},{"c":27.8929,"l":18.25,"v":"b7"},{"c":28.1071,"l":18.25,"v":"b6"},{"c":28.3214,"l":18.25,"v":"b5"},{"c":28.6786,"l":18.25,"v":"b4"},{"c":28.8929,"l":18.25,"v":"b3"},{"c":29.1071,"l":18.25,"v":"b3"},{"c":29.3214,"l":18.25,"v":"b2"},{"c":29.6786,"l":18.25,"v":"b1"},{"c":29.8929,"l":18.25,"v":"cy"},{"c":30.1071,"l":18.25,"v":"c5"},{"c":30.3214,"l":18.25,"v":"c3"},{"c":30.6786,"l":18.25,"v":"c3"},{"c":30.8929,"l":18.25,"v":"c2"},{"c":31.1071,"l":18.25,"v":"c1"},{"c":31.3214,"l":18.25,"v":"c1"},
{"c":33.6786,"l":18.25,"v":"c2"},{"c":33.8929,"l":18.25,"v":"c3"},{"c":34.1071,"l":18.25,"v":"c4"},{"c":34.3214,"l":18.25,"v":"c5"},{"c":34.6786,"l":18.25,"v":"b3"},{"c":34.8929,"l":18.25,"v":"b5"},{"c":35.1071,"l":18.25,"v":"b8"},{"c":35.3214,"l":18.25,"v":"b9"},{"c":35.6786,"l":18.25,"v":"b8"},{"c":35.8929,"l":18.25,"v":"b7"},{"c":36.1071,"l":18.25,"v":"b5"},{"c":36.3214,"l":18.25,"v":"b4"},{"c":36.6786,"l":18.25,"v":"b4"},{"c":36.8929,"l":18.25,"v":"b3"},{"c":37.1071,"l":18.25,"v":"b2"},{"c":37.3214,"l":18.25,"v":"b2"},{"c":37.6786,"l":18.25,"v":"b1"},{"c":37.8929,"l":18.25,"v":"cy"},{"c":38.1071,"l":18.25,"v":"c5"},{"c":38.3214,"l":18.25,"v":"c4"},{"c":38.6786,"l":18.25,"v":"c3"},{"c":38.8929,"l":18.25,"v":"c2"},{"c":39.1071,"l":18.25,"v":"c1"},{"c":39.3214,"l":18.25,"v":"c1"},
{"c":41.6786,"l":18.25,"v":"c2"},{"c":41.8929,"l":18.25,"v":"c3"},{"c":42.1071,"l":18.25,"v":"c4"},{"c":42.3214,"l":18.25,"v":"c5"},{"c":42.6786,"l":18.25,"v":"b3"},{"c":42.8929,"l":18.25,"v":"b6"},{"c":43.1071,"l":18.25,"v":"b8"},{"c":43.3214,"l":18.25,"v":"b9"},{"c":43.6786,"l":18.25,"v":"b9"},{"c":43.8929,"l":18.25,"v":"b8"},{"c":44.1071,"l":18.25,"v":"b7"},{"c":44.3214,"l":18.25,"v":"b5"},{"c":44.6786,"l":18.25,"v":"b5"},{"c":44.8929,"l":18.25,"v":"b4"},{"c":45.1071,"l":18.25,"v":"b3"},{"c":45.3214,"l":18.25,"v":"b3"},{"c":45.6786,"l":18.25,"v":"b1"},{"c":45.8929,"l":18.25,"v":"cy"},{"c":46.1071,"l":18.25,"v":"c5"},{"c":46.3214,"l":18.25,"v":"c4"},{"c":46.6786,"l":18.25,"v":"c3"},{"c":46.8929,"l":18.25,"v":"c2"},{"c":47.1071,"l":18.25,"v":"c1"},{"c":47.3214,"l":18.25,"v":"c1"}],
"rules":[{"c":0.5714,"l":-0.375,"l2":10.375},{"c":24.5714,"l":-0.375,"l2":10.375},{"c":48.5714,"l":-0.375,"l2":10.375},{"c":72.5714,"l":-0.375,"l2":10.375},{"c":4.5714,"l":15.875,"l2":18.6875},{"c":12.5714,"l":15.875,"l2":18.6875},{"c":20.5714,"l":15.875,"l2":18.6875},{"c":28.5714,"l":15.875,"l2":18.6875},{"c":36.5714,"l":15.875,"l2":18.6875},{"c":44.5714,"l":15.875,"l2":18.6875}],
"digits":[
{"c":0,"l":-3,"t":"S","v":"green"},{"c":0,"l":-2.0625,"t":"2","v":"green"},{"c":0,"l":-1.125,"t":"3","v":"green"},
{"c":1,"l":-1.125,"t":"0","v":"yellow"},{"c":2,"l":-1.125,"t":"1","v":"yellow"},{"c":3,"l":-1.125,"t":"2","v":"yellow"},{"c":4,"l":-1.125,"t":"3","v":"yellow"},{"c":5,"l":-1.125,"t":"4","v":"yellow"},{"c":6,"l":-1.125,"t":"5","v":"yellow"},{"c":7,"l":-1.125,"t":"6","v":"yellow"},{"c":8,"l":-1.125,"t":"7","v":"yellow"},{"c":9,"l":-1.125,"t":"8","v":"yellow"},{"c":10,"l":-1.125,"t":"9","v":"yellow"},{"c":11,"l":-1.125,"t":"0","v":"yellow"},{"c":12,"l":-1.125,"t":"1","v":"yellow"},{"c":13,"l":-1.125,"t":"2","v":"yellow"},{"c":14,"l":-1.125,"t":"3","v":"yellow"},{"c":15,"l":-1.125,"t":"4","v":"yellow"},{"c":16,"l":-1.125,"t":"5","v":"yellow"},{"c":17,"l":-1.125,"t":"6","v":"yellow"},{"c":18,"l":-1.125,"t":"7","v":"yellow"},{"c":19,"l":-1.125,"t":"8","v":"yellow"},{"c":20,"l":-1.125,"t":"9","v":"yellow"},{"c":21,"l":-1.125,"t":"0","v":"yellow"},{"c":22,"l":-1.125,"t":"1","v":"yellow"},{"c":23,"l":-1.125,"t":"2","v":"yellow"},{"c":24,"l":-1.125,"t":"3","v":"yellow"},
{"c":25,"l":-1.125,"t":"0","v":"salmon"},{"c":26,"l":-1.125,"t":"1","v":"salmon"},{"c":27,"l":-1.125,"t":"2","v":"salmon"},{"c":28,"l":-1.125,"t":"3","v":"salmon"},{"c":29,"l":-1.125,"t":"4","v":"salmon"},{"c":30,"l":-1.125,"t":"5","v":"salmon"},{"c":31,"l":-1.125,"t":"6","v":"salmon"},{"c":32,"l":-1.125,"t":"7","v":"salmon"},{"c":33,"l":-1.125,"t":"8","v":"salmon"},{"c":34,"l":-1.125,"t":"9","v":"salmon"},{"c":35,"l":-1.125,"t":"0","v":"salmon"},{"c":36,"l":-1.125,"t":"1","v":"salmon"},{"c":37,"l":-1.125,"t":"2","v":"salmon"},{"c":38,"l":-1.125,"t":"3","v":"salmon"},{"c":39,"l":-1.125,"t":"4","v":"salmon"},{"c":40,"l":-1.125,"t":"5","v":"salmon"},{"c":41,"l":-1.125,"t":"6","v":"salmon"},{"c":42,"l":-1.125,"t":"7","v":"salmon"},{"c":43,"l":-1.125,"t":"8","v":"salmon"},{"c":44,"l":-1.125,"t":"9","v":"salmon"},{"c":45,"l":-1.125,"t":"0","v":"salmon"},{"c":46,"l":-1.125,"t":"1","v":"salmon"},{"c":47,"l":-1.125,"t":"2","v":"salmon"},{"c":48,"l":-1.125,"t":"3","v":"salmon"},
{"c":49,"l":-1.125,"t":"0","v":"magenta"},{"c":50,"l":-1.125,"t":"1","v":"magenta"},{"c":51,"l":-1.125,"t":"2","v":"magenta"},{"c":52,"l":-1.125,"t":"3","v":"magenta"},{"c":53,"l":-1.125,"t":"4","v":"magenta"},{"c":54,"l":-1.125,"t":"5","v":"magenta"},{"c":55,"l":-1.125,"t":"6","v":"magenta"},{"c":56,"l":-1.125,"t":"7","v":"magenta"},{"c":57,"l":-1.125,"t":"8","v":"magenta"},{"c":58,"l":-1.125,"t":"9","v":"magenta"},{"c":59,"l":-1.125,"t":"0","v":"magenta"},{"c":60,"l":-1.125,"t":"1","v":"magenta"},{"c":61,"l":-1.125,"t":"2","v":"magenta"},{"c":62,"l":-1.125,"t":"3","v":"magenta"},{"c":63,"l":-1.125,"t":"4","v":"magenta"},{"c":64,"l":-1.125,"t":"5","v":"magenta"},{"c":65,"l":-1.125,"t":"6","v":"magenta"},{"c":66,"l":-1.125,"t":"7","v":"magenta"},{"c":67,"l":-1.125,"t":"8","v":"magenta"},{"c":68,"l":-1.125,"t":"9","v":"magenta"},{"c":69,"l":-1.125,"t":"0","v":"magenta"},{"c":70,"l":-1.125,"t":"1","v":"magenta"},{"c":71,"l":-1.125,"t":"2","v":"magenta"},{"c":72,"l":-1.125,"t":"3","v":"magenta"},
{"c":73,"l":-1.125,"t":"0","v":"violet"},{"c":74,"l":-1.125,"t":"1","v":"violet"},{"c":75,"l":-1.125,"t":"2","v":"violet"},{"c":76,"l":-1.125,"t":"3","v":"violet"},{"c":77,"l":-1.125,"t":"4","v":"violet"},{"c":78,"l":-1.125,"t":"5","v":"violet"},{"c":79,"l":-1.125,"t":"6","v":"violet"},{"c":80,"l":-1.125,"t":"7","v":"violet"},{"c":81,"l":-1.125,"t":"8","v":"violet"},
{"c":11,"l":-2.0625,"t":"1","v":"yellow"},{"c":12,"l":-2.0625,"t":"1","v":"yellow"},{"c":13,"l":-2.0625,"t":"1","v":"yellow"},{"c":14,"l":-2.0625,"t":"1","v":"yellow"},{"c":15,"l":-2.0625,"t":"1","v":"yellow"},{"c":16,"l":-2.0625,"t":"1","v":"yellow"},{"c":17,"l":-2.0625,"t":"1","v":"yellow"},{"c":18,"l":-2.0625,"t":"1","v":"yellow"},{"c":19,"l":-2.0625,"t":"1","v":"yellow"},{"c":20,"l":-2.0625,"t":"1","v":"yellow"},{"c":21,"l":-2.0625,"t":"2","v":"yellow"},{"c":22,"l":-2.0625,"t":"2","v":"yellow"},{"c":23,"l":-2.0625,"t":"2","v":"yellow"},{"c":24,"l":-2.0625,"t":"2","v":"yellow"},
{"c":35,"l":-2.0625,"t":"1","v":"salmon"},{"c":36,"l":-2.0625,"t":"1","v":"salmon"},{"c":37,"l":-2.0625,"t":"1","v":"salmon"},{"c":38,"l":-2.0625,"t":"1","v":"salmon"},{"c":39,"l":-2.0625,"t":"1","v":"salmon"},{"c":40,"l":-2.0625,"t":"1","v":"salmon"},{"c":41,"l":-2.0625,"t":"1","v":"salmon"},{"c":42,"l":-2.0625,"t":"1","v":"salmon"},{"c":43,"l":-2.0625,"t":"1","v":"salmon"},{"c":44,"l":-2.0625,"t":"1","v":"salmon"},{"c":45,"l":-2.0625,"t":"2","v":"salmon"},{"c":46,"l":-2.0625,"t":"2","v":"salmon"},{"c":47,"l":-2.0625,"t":"2","v":"salmon"},{"c":48,"l":-2.0625,"t":"2","v":"salmon"},
{"c":59,"l":-2.0625,"t":"1","v":"magenta"},{"c":60,"l":-2.0625,"t":"1","v":"magenta"},{"c":61,"l":-2.0625,"t":"1","v":"magenta"},{"c":62,"l":-2.0625,"t":"1","v":"magenta"},{"c":63,"l":-2.0625,"t":"1","v":"magenta"},{"c":64,"l":-2.0625,"t":"1","v":"magenta"},{"c":65,"l":-2.0625,"t":"1","v":"magenta"},{"c":66,"l":-2.0625,"t":"1","v":"magenta"},{"c":67,"l":-2.0625,"t":"1","v":"magenta"},{"c":68,"l":-2.0625,"t":"1","v":"magenta"},{"c":69,"l":-2.0625,"t":"2","v":"magenta"},{"c":70,"l":-2.0625,"t":"2","v":"magenta"},{"c":71,"l":-2.0625,"t":"2","v":"magenta"},{"c":72,"l":-2.0625,"t":"2","v":"magenta"},
{"c":0,"l":15.125,"t":"1","v":"violet"},{"c":1,"l":15.125,"t":"4","v":"violet"},{"c":2,"l":15.125,"t":"7","v":"violet"},{"c":3,"l":15.125,"t":"0","v":"violet"},{"c":4,"l":15.125,"t":"3","v":"violet"},
{"c":5,"l":15.125,"t":"2","v":"green"},{"c":6,"l":15.125,"t":"5","v":"green"},{"c":7,"l":15.125,"t":"8","v":"green"},{"c":8,"l":15.125,"t":"1","v":"green"},{"c":9,"l":15.125,"t":"4","v":"green"},{"c":10,"l":15.125,"t":"7","v":"green"},{"c":11,"l":15.125,"t":"0","v":"green"},{"c":12,"l":15.125,"t":"3","v":"green"},
{"c":13,"l":15.125,"t":"2","v":"yellow"},{"c":14,"l":15.125,"t":"5","v":"yellow"},{"c":15,"l":15.125,"t":"8","v":"yellow"},{"c":16,"l":15.125,"t":"1","v":"yellow"},{"c":17,"l":15.125,"t":"4","v":"yellow"},{"c":18,"l":15.125,"t":"7","v":"yellow"},{"c":19,"l":15.125,"t":"0","v":"yellow"},{"c":20,"l":15.125,"t":"3","v":"yellow"},
{"c":21,"l":15.125,"t":"2","v":"salmon"},{"c":22,"l":15.125,"t":"5","v":"salmon"},{"c":23,"l":15.125,"t":"8","v":"salmon"},{"c":24,"l":15.125,"t":"1","v":"salmon"},{"c":25,"l":15.125,"t":"4","v":"salmon"},{"c":26,"l":15.125,"t":"7","v":"salmon"},{"c":27,"l":15.125,"t":"0","v":"salmon"},{"c":28,"l":15.125,"t":"3","v":"salmon"},
{"c":29,"l":15.125,"t":"2","v":"magenta"},{"c":30,"l":15.125,"t":"5","v":"magenta"},{"c":31,"l":15.125,"t":"8","v":"magenta"},{"c":32,"l":15.125,"t":"1","v":"magenta"},{"c":33,"l":15.125,"t":"4","v":"magenta"},{"c":34,"l":15.125,"t":"7","v":"magenta"},{"c":35,"l":15.125,"t":"0","v":"magenta"},{"c":36,"l":15.125,"t":"3","v":"magenta"},
{"c":37,"l":15.125,"t":"2","v":"violet"},{"c":38,"l":15.125,"t":"5","v":"violet"},{"c":39,"l":15.125,"t":"8","v":"violet"},{"c":40,"l":15.125,"t":"1","v":"violet"},{"c":41,"l":15.125,"t":"4","v":"violet"},{"c":42,"l":15.125,"t":"7","v":"violet"},{"c":43,"l":15.125,"t":"0","v":"violet"},{"c":44,"l":15.125,"t":"3","v":"violet"},
{"c":45,"l":15.125,"t":"2","v":"green"},{"c":46,"l":15.125,"t":"5","v":"green"},{"c":47,"l":15.125,"t":"8","v":"green"},
{"c":0,"l":14.1875,"t":"1","v":"violet"},{"c":1,"l":14.1875,"t":"1","v":"violet"},{"c":2,"l":14.1875,"t":"1","v":"violet"},{"c":3,"l":14.1875,"t":"2","v":"violet"},{"c":4,"l":14.1875,"t":"2","v":"violet"},
{"c":8,"l":14.1875,"t":"1","v":"green"},{"c":9,"l":14.1875,"t":"1","v":"green"},{"c":10,"l":14.1875,"t":"1","v":"green"},{"c":11,"l":14.1875,"t":"2","v":"green"},{"c":12,"l":14.1875,"t":"2","v":"green"},
{"c":16,"l":14.1875,"t":"1","v":"yellow"},{"c":17,"l":14.1875,"t":"1","v":"yellow"},{"c":18,"l":14.1875,"t":"1","v":"yellow"},{"c":19,"l":14.1875,"t":"2","v":"yellow"},{"c":20,"l":14.1875,"t":"2","v":"yellow"},
{"c":24,"l":14.1875,"t":"1","v":"salmon"},{"c":25,"l":14.1875,"t":"1","v":"salmon"},{"c":26,"l":14.1875,"t":"1","v":"salmon"},{"c":27,"l":14.1875,"t":"2","v":"salmon"},{"c":28,"l":14.1875,"t":"2","v":"salmon"},
{"c":32,"l":14.1875,"t":"1","v":"magenta"},{"c":33,"l":14.1875,"t":"1","v":"magenta"},{"c":34,"l":14.1875,"t":"1","v":"magenta"},{"c":35,"l":14.1875,"t":"2","v":"magenta"},{"c":36,"l":14.1875,"t":"2","v":"magenta"},
{"c":40,"l":14.1875,"t":"1","v":"violet"},{"c":41,"l":14.1875,"t":"1","v":"violet"},{"c":42,"l":14.1875,"t":"1","v":"violet"},{"c":43,"l":14.1875,"t":"2","v":"violet"},{"c":44,"l":14.1875,"t":"2","v":"violet"}],
"labels":[
{"c":-9.8571,"l":-3,"t":"2026-07-26","v":"green"},{"c":-9.8571,"l":-2.0625,"t":"Local Time","v":"local"},
{"c":10.6429,"l":-3,"t":"Monday, 27","v":"yellow"},{"c":34.6429,"l":-3,"t":"Tuesday, 28","v":"salmon"},{"c":58.6429,"l":-3,"t":"Wednesday, 29","v":"magenta"},{"c":73.4286,"l":-3,"t":"Thursday, 30","v":"violet"},
{"c":-9,"l":-0.125,"t":"Cloud Cover:","v":"white"},{"c":-9,"l":0.875,"t":"ECMWF Cloud:","v":"white"},{"c":-9,"l":1.875,"t":"Transparency:","v":"white"},{"c":-9,"l":2.875,"t":"Seeing:","v":"white"},{"c":-9,"l":3.875,"t":"Darkness:","v":"crimson"},
{"c":-9,"l":6.875,"t":"Smoke:","v":"white"},{"c":-9,"l":7.875,"t":"Wind:","v":"white"},{"c":-9,"l":8.875,"t":"Humidity:","v":"white"},{"c":-9,"l":9.875,"t":"Temperature:","v":"white"},
{"c":-10,"l":12.0625,"t":"EXTENDED Forecast. Each block is 3 hours. (A sponsored feature)","v":"red"},
{"c":-9.8571,"l":13.25,"t":"2026-07-30","v":"violet"},{"c":-9.8571,"l":14.1875,"t":"Local Time","v":"local"},
{"c":-0.3571,"l":13.25,"t":"Thu, 30","v":"violet"},{"c":7.2143,"l":13.25,"t":"Fri, 31","v":"green"},{"c":15.2143,"l":13.25,"t":"Sat, 1","v":"yellow"},{"c":23.2143,"l":13.25,"t":"Sun, 2","v":"salmon"},{"c":31.2857,"l":13.25,"t":"Mon, 3","v":"magenta"},{"c":39.2857,"l":13.25,"t":"Tue, 4","v":"violet"},{"c":44.5714,"l":13.25,"t":"We","v":"green"},
{"c":-9,"l":16.1875,"t":"Cloud Cover:","v":"white"},{"c":-9,"l":17.1875,"t":"ECMWF Cloud:","v":"white"},{"c":-9,"l":18.1875,"t":"Darkness:","v":"crimson"},
{"c":13.4286,"l":20.8125,"t":"© 2026 Attilla Danko\u00a0\u00a0forecast: A.Rahill\u00a0\u00a0data:","v":"white"}],
"titles":[{"c":13.5714,"l":-4.4375,"t":"Leitner Observatory and Planetarium","v":"yellow"},{"c":45.3571,"l":-4.4375,"t":"Clear Sky Chart","v":"cyan"}],
"tiny":[{"c":-9.7857,"l":-1.25,"t":"(GMT -4+0)","v":"tiny"},{"c":-9.7857,"l":15.03,"t":"(GMT -4+0)","v":"tiny"}],
"side":[{"c":-9.5714,"l":2.0625,"t":"- - Sky - -","v":"yellow"},{"c":-9.5714,"l":8.5,"t":"- Ground -","v":"white"},{"c":-9.5714,"l":17.1875,"t":"- Sky -","v":"yellow"}],
"logo":[{"c":49.2143,"l":20.5625,"t":"Environment","v":"black"},{"c":49.2143,"l":21.09,"t":"Canada","v":"black"},{"c":53.8571,"l":20.5625,"t":"Environnement","v":"black"},{"c":53.8571,"l":21.09,"t":"Canada","v":"black"}],
"leaf":[{"c":47.2143,"l":20.8125,"v":"red"}]
},
"encoding":{
"x":{"field":"c","type":"quantitative","axis":null,"scale":{"domain":[-10,81.7143],"nice":false,"zero":false}},
"y":{"field":"l","type":"quantitative","axis":null,"scale":{"domain":[-5.1875,21.3125],"nice":false,"zero":false,"reverse":true}},
"color":{"field":"v","type":"nominal","legend":null,"scale":{
"domain":["A","B","C","D","E","F","G","H","I","J","K","L","M","W","R1","R2","R3","R4","Y1","Y2","Y3","Y4","Y5","Y6","T1","T2","T3","c1","c2","c3","c4","c5","c6","cy","b1","b2","b3","b4","b5","b6","b7","b8","b9","skybar","groundbar","white","red","green","yellow","salmon","magenta","violet","local","tiny","crimson","cyan","black"],
"range":["#003f7f","#13538f","#2b6cad","#4a8acb","#63a3e3","#77b9f9","#99d9d9","#aff0f0","#c1c1c1","#e9e9e9","#f9f9f9","#d8d8d8","#80c0c0","#ffffff","#ff3300","#e00000","#b50000","#ee0000","#ffc800","#ff8800","#e6ff1a","#99ff66","#55ffaa","#00ffff","#ff9e00","#ff5a00","#ff2200","#fff8f0","#fff0e0","#ffe6c8","#ffd8a8","#ffc070","#ff9e20","#00e0ff","#0088ff","#0070f0","#0058e0","#0044d0","#0030c0","#0018b0","#0000a0","#000080","#000060","#0a5ff0","#556b00","#ffffff","#ff0000","#77ff77","#ffff00","#ff7777","#ff00ff","#7777ff","#cccc00","#d8c860","#ff3333","#00cccc","#000000"]}}
},
"layer":[
{"data":{"name":"blocks"},"mark":{"type":"rect"},"encoding":{"x2":{"field":"c2"},"y2":{"field":"l2"}}},
{"data":{"name":"leaf"},"mark":{"type":"point","filled":true,"opacity":1,"size":144,"shape":"M0,-1 L0.2,-0.6 L0.4,-0.7 L0.3,-0.15 L0.6,-0.4 L0.7,-0.2 L1,-0.25 L0.85,0.15 L0.95,0.25 L0.45,0.6 L0.5,0.8 L0.05,0.72 L0.05,1 L-0.05,1 L-0.05,0.72 L-0.5,0.8 L-0.45,0.6 L-0.95,0.25 L-0.85,0.15 L-1,-0.25 L-0.7,-0.2 L-0.6,-0.4 L-0.3,-0.15 L-0.4,-0.7 L-0.2,-0.6 Z"}},
{"data":{"name":"cells"},"mark":{"type":"square","size":144,"opacity":1}},
{"data":{"name":"cells"},"transform":[{"filter":"datum.j==1"}],"mark":{"type":"tick","orient":"vertical","thickness":2,"size":8,"opacity":1,"xOffset":7}},
{"data":{"name":"strips"},"mark":{"type":"tick","orient":"vertical","thickness":3,"size":12,"opacity":1}},
{"data":{"name":"rules"},"mark":{"type":"rule","strokeWidth":2},"encoding":{"y2":{"field":"l2"},"color":{"value":"#ff0000"}}},
{"data":{"name":"digits"},"mark":{"type":"text","font":"Liberation Mono","fontSize":15,"align":"center","baseline":"middle"},"encoding":{"text":{"field":"t"}}},
{"data":{"name":"labels"},"mark":{"type":"text","font":"Liberation Mono","fontSize":15,"align":"left","baseline":"middle"},"encoding":{"text":{"field":"t"}}},
{"data":{"name":"titles"},"mark":{"type":"text","font":"DejaVu Sans Mono","fontSize":20,"fontWeight":"bold","align":"left","baseline":"middle"},"encoding":{"text":{"field":"t"}}},
{"data":{"name":"tiny"},"mark":{"type":"text","font":"DejaVu Sans Mono","fontSize":8,"fontWeight":"bold","align":"left","baseline":"middle"},"encoding":{"text":{"field":"t"}}},
{"data":{"name":"side"},"mark":{"type":"text","font":"DejaVu Sans Mono","fontSize":10,"angle":270,"align":"center","baseline":"middle"},"encoding":{"text":{"field":"t"}}},
{"data":{"name":"logo"},"mark":{"type":"text","font":"DejaVu Sans","fontSize":7.5,"align":"left","baseline":"middle"},"encoding":{"text":{"field":"t"}}}
]}
